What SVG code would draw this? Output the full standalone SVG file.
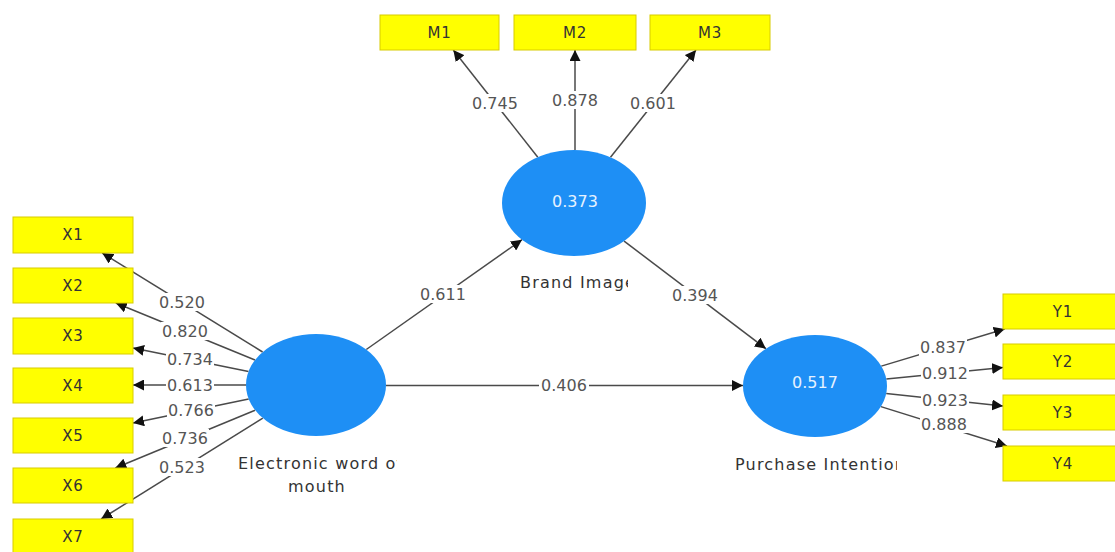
<svg xmlns="http://www.w3.org/2000/svg" width="1115" height="552" viewBox="0 0 1115 552">
<style>
.bg{fill:#ffffff}
.ind rect{fill:#ffff00;stroke:#d8cc00;stroke-width:1}
.ind text{font-family:"DejaVu Sans","Noto Sans",sans-serif;font-size:15px;fill:#333;text-anchor:middle;letter-spacing:0.8px}
.lat ellipse{fill:#1e8ff5}
.lat .val{font-family:"DejaVu Sans","Noto Sans",sans-serif;font-size:16px;fill:#e6f2ff;text-anchor:middle}
.lat .name{font-family:"DejaVu Sans","Noto Sans",sans-serif;font-size:16px;fill:#333;letter-spacing:1.2px}
.conn line{stroke:#4a4a4a;stroke-width:1.5;marker-end:url(#ah)}
.lbl rect{fill:#ffffff}
.lbl text{font-family:"DejaVu Sans","Noto Sans",sans-serif;font-size:16px;fill:#555;text-anchor:middle}
</style>
<defs>
<marker id="ah" markerUnits="userSpaceOnUse" markerWidth="11" markerHeight="11" refX="11" refY="5.5" orient="auto">
<path d="M0,0 L11,5.5 L0,11 z" fill="#111"/>
</marker>
<clipPath id="cE"><rect x="228" y="440" width="169" height="60"/></clipPath>
<clipPath id="cB"><rect x="505" y="265" width="123" height="30"/></clipPath>
<clipPath id="cP"><rect x="725" y="448" width="172" height="30"/></clipPath>
</defs>
<rect class="bg" x="0" y="0" width="1115" height="552"/>

<g id="connectors" class="conn">
<line x1="262.6" y1="352" x2="102.2" y2="253"/>
<line x1="255" y1="360" x2="115.8" y2="303"/>
<line x1="248.5" y1="371.4" x2="133" y2="348.1"/>
<line x1="246" y1="385" x2="133" y2="385"/>
<line x1="248.7" y1="399" x2="133" y2="423"/>
<line x1="255.1" y1="410.2" x2="115.3" y2="468"/>
<line x1="262.8" y1="418.2" x2="101.1" y2="519"/>
<line x1="537.8" y1="157.2" x2="453.3" y2="50"/>
<line x1="575" y1="150" x2="575" y2="50"/>
<line x1="610.5" y1="157.3" x2="696" y2="50"/>
<line x1="881.3" y1="366.1" x2="1004.7" y2="329"/>
<line x1="886.3" y1="379" x2="1003" y2="367.4"/>
<line x1="886.2" y1="393.6" x2="1003" y2="406.1"/>
<line x1="880.9" y1="406.6" x2="1007" y2="446"/>
<line x1="366.3" y1="349.5" x2="522" y2="239.7"/>
<line x1="624.1" y1="241.1" x2="765.9" y2="348.7"/>
<line x1="386" y1="385.5" x2="743" y2="385.5"/>
</g>

<g id="path-labels" class="lbl">
<rect x="158" y="293" width="48" height="18"/><text x="182" y="308">0.520</text>
<rect x="161" y="322" width="48" height="18"/><text x="185" y="337">0.820</text>
<rect x="166" y="350" width="48" height="18"/><text x="190" y="365">0.734</text>
<rect x="166" y="376" width="48" height="18"/><text x="190" y="391">0.613</text>
<rect x="167" y="401" width="48" height="18"/><text x="191" y="416">0.766</text>
<rect x="161" y="429" width="48" height="18"/><text x="185" y="444">0.736</text>
<rect x="158" y="458" width="48" height="18"/><text x="182" y="473">0.523</text>
<rect x="471" y="94" width="48" height="18"/><text x="495" y="109">0.745</text>
<rect x="551" y="91" width="48" height="18"/><text x="575" y="106">0.878</text>
<rect x="629" y="94" width="48" height="18"/><text x="653" y="109">0.601</text>
<rect x="919" y="338" width="48" height="18"/><text x="943" y="353">0.837</text>
<rect x="921" y="364" width="48" height="18"/><text x="945" y="379">0.912</text>
<rect x="921" y="391" width="48" height="18"/><text x="945" y="406">0.923</text>
<rect x="920" y="415" width="48" height="18"/><text x="944" y="430">0.888</text>
<rect x="419" y="285" width="48" height="18"/><text x="443" y="300">0.611</text>
<rect x="671" y="286" width="48" height="18"/><text x="695" y="301">0.394</text>
<rect x="539" y="376" width="50" height="18"/><text x="564" y="391">0.406</text>
</g>

<g id="X1" class="ind"><rect x="13" y="217" width="120" height="36"/><text x="73" y="240">X1</text></g>
<g id="X2" class="ind"><rect x="13" y="268" width="120" height="35"/><text x="73" y="291">X2</text></g>
<g id="X3" class="ind"><rect x="13" y="318" width="120" height="36"/><text x="73" y="341">X3</text></g>
<g id="X4" class="ind"><rect x="13" y="368" width="120" height="35"/><text x="73" y="391">X4</text></g>
<g id="X5" class="ind"><rect x="13" y="418" width="120" height="35"/><text x="73" y="441">X5</text></g>
<g id="X6" class="ind"><rect x="13" y="468" width="120" height="35"/><text x="73" y="491">X6</text></g>
<g id="X7" class="ind"><rect x="13" y="519" width="120" height="35"/><text x="73" y="542">X7</text></g>

<g id="M1" class="ind"><rect x="380" y="15" width="119" height="35"/><text x="439.5" y="38">M1</text></g>
<g id="M2" class="ind"><rect x="514" y="15" width="122" height="35"/><text x="575" y="38">M2</text></g>
<g id="M3" class="ind"><rect x="650" y="15" width="120" height="35"/><text x="710" y="38">M3</text></g>

<g id="Y1" class="ind"><rect x="1003" y="294" width="120" height="35"/><text x="1063" y="317">Y1</text></g>
<g id="Y2" class="ind"><rect x="1003" y="344" width="120" height="35"/><text x="1063" y="367">Y2</text></g>
<g id="Y3" class="ind"><rect x="1003" y="395" width="120" height="35"/><text x="1063" y="418">Y3</text></g>
<g id="Y4" class="ind"><rect x="1003" y="446" width="120" height="35"/><text x="1063" y="469">Y4</text></g>

<g id="EWOM" class="lat">
<ellipse cx="316" cy="385" rx="70" ry="51"/>
<g clip-path="url(#cE)">
<text class="name" x="238" y="469">Electronic word of</text>
</g>
<text class="name" x="317" y="492" text-anchor="middle">mouth</text>
</g>

<g id="BrandImage" class="lat">
<ellipse cx="574" cy="203" rx="72" ry="53"/>
<text class="val" x="575" y="207">0.373</text>
<g clip-path="url(#cB)"><text class="name" x="520" y="288">Brand Image</text></g>
</g>

<g id="PurchaseIntention" class="lat">
<ellipse cx="815" cy="386" rx="72" ry="51"/>
<text class="val" x="815" y="388">0.517</text>
<g clip-path="url(#cP)"><text class="name" x="735" y="470">Purchase Intention</text></g>
</g>
</svg>
